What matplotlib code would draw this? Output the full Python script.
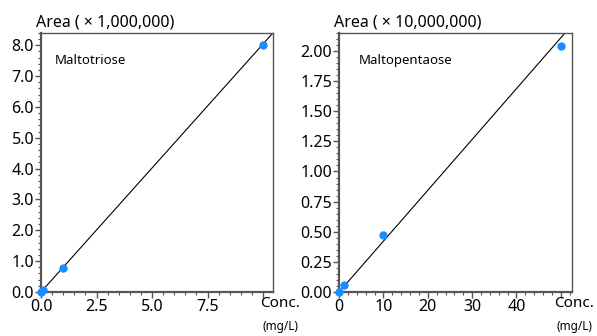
import numpy as np
import matplotlib
matplotlib.use('Agg')
import matplotlib.pyplot as plt
from matplotlib.ticker import MultipleLocator, FuncFormatter

plt.rcParams['font.family'] = ['Noto Sans', 'DejaVu Sans']

# Maltotriose (area x 1,000,000)
tri_conc = [0, 0.1, 1, 10]
tri_area = [0, 0.08, 0.79, 8.0]
tri_fit = [0.804, 0.0]  # slope, intercept

# Maltopentaose (area x 10,000,000)
penta_conc = [0, 1, 10, 50]
penta_area = [0, 0.055, 0.47, 2.045]
penta_fit = [0.0422, 0.0]

dot = '#1a8cff'
edge = '#555555'

fig = plt.figure(figsize=(5.97, 3.36), dpi=100)
ax1 = fig.add_axes([0.0687, 0.131, 0.3886, 0.771])
ax2 = fig.add_axes([0.568, 0.131, 0.390, 0.771])

panels = [
    (ax1, tri_conc, tri_area, tri_fit, 'Maltotriose', 'Area ( × 1,000,000)',
     (0, 10.45), (0, 8.4), 2.5, 0.5, 1.0, 0.2, '%.1f', '%.1f', 0.06, 9.9, 1.03),
    (ax2, penta_conc, penta_area, penta_fit, 'Maltopentaose', 'Area ( × 10,000,000)',
     (0, 52.5), (0, 2.15), 10, 2, 0.25, 0.05, '%d', '%.2f', 0.085, 45, 1.01),
]

for ax, xs, ys, fit, name, ylab, xl, yl, xmaj, xmin, ymaj, ymin, xf, yf, nx, xcut, cx in panels:
    xx = np.array(xl)
    ax.plot(xx, fit[0] * xx + fit[1], color='black', lw=0.8)
    ax.plot(xs, ys, 'o', color=dot, ms=5, clip_on=False, zorder=5)
    ax.xaxis.set_major_locator(MultipleLocator(xmaj))
    ax.xaxis.set_minor_locator(MultipleLocator(xmin))
    ax.yaxis.set_major_locator(MultipleLocator(ymaj))
    ax.yaxis.set_minor_locator(MultipleLocator(ymin))
    ax.xaxis.set_major_formatter(FuncFormatter(
        lambda v, p, f=xf, c=xcut: (f % v) if v < c else ''))
    ax.yaxis.set_major_formatter(FuncFormatter(lambda v, p, f=yf: f % v))
    ax.set_xlim(*xl)
    ax.set_ylim(*yl)
    ax.tick_params(which='major', direction='out', length=4, width=1,
                   color=edge, labelsize=11.5, pad=1)
    ax.tick_params(which='minor', direction='out', length=2, width=0.8, color=edge)
    for s in ['left', 'bottom']:
        ax.spines[s].set_linewidth(1.6)
        ax.spines[s].set_color(edge)
    for s in ['top', 'right']:
        ax.spines[s].set_linewidth(1.0)
        ax.spines[s].set_color(edge)
    ax.text(nx, 0.895, name, transform=ax.transAxes, fontsize=9.5,
            va='center', ha='left')
    ax.text(-0.02, 1.01, ylab, transform=ax.transAxes, fontsize=11.5,
            va='bottom', ha='left')
    ax.text(cx, -0.015, 'Conc.', transform=ax.transAxes, fontsize=11,
            va='top', ha='center')
    ax.text(cx, -0.11, '(mg/L)', transform=ax.transAxes, fontsize=8.5,
            va='top', ha='center')

fig.savefig('out.png', dpi=100)
